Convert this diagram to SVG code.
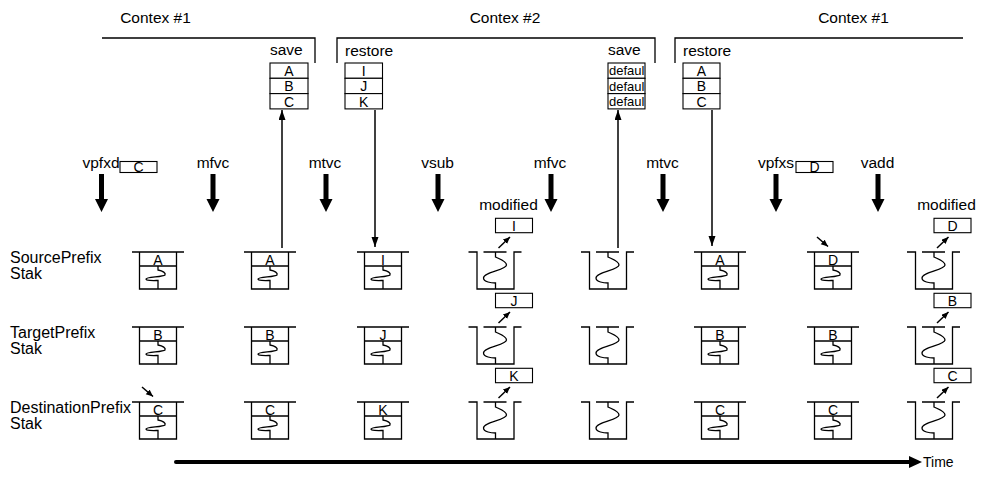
<svg xmlns="http://www.w3.org/2000/svg" xmlns:xlink="http://www.w3.org/1999/xlink" width="982" height="482" viewBox="0 0 982 482">
<style>
text{font-family:"Liberation Sans",Arial,sans-serif;fill:#000}
.lb{font-size:15.5px}
.rl{font-size:16px}
.cl{font-size:14px;text-anchor:middle}
.df{font-size:13px}
.ln{fill:none;stroke:#000;stroke-width:1.3}
.bx{fill:#fff;stroke:#000;stroke-width:1.1}
.thin{fill:none;stroke:#000;stroke-width:1.5}
.sm{fill:none;stroke:#000;stroke-width:1.5}
.thick{fill:#000;stroke:none}
</style>
<defs>
<marker id="ah" markerUnits="userSpaceOnUse" markerWidth="12" markerHeight="8" refX="10" refY="3.5" orient="auto"><path d="M0,0 L10,3.5 L0,7 z" fill="#000"/></marker>
<marker id="ahs" markerUnits="userSpaceOnUse" markerWidth="9" markerHeight="8" refX="7" refY="3" orient="auto"><path d="M0,0 L7,3 L0,6 z" fill="#000"/></marker>
<g id="stackN">
<path class="ln" d="M-26,0 H26 M-18.5,0 V37 H18.5 V0 M-18.5,14 H18.5"/>
<path class="ln" d="M0,14 V18 C5,19 8,21 7,23 C5,25 -12,25 -12,27 C-12,29 -3,28.5 0,28.5 V37"/>
</g>
<g id="stackC">
<path class="ln" d="M-27,0 H-18.5 V37 H18.5 V0 H26 M-12,0 H11"/>
<path class="ln" d="M0,0 V5 C4,7 11,9 11,13 C11,18 -12,20 -12,26 C-12,30 -4,31 0,31 V37"/>
</g>
<polygon id="bigdown" class="thick" points="-2.5,174 2.5,174 2.5,199 6.5,199 0,212 -6.5,199 -2.5,199"/>
</defs>

<g id="contexts">
<g id="ctx1a"><text class="lb" x="155.5" y="23" text-anchor="middle">Contex #1</text><path class="ln" d="M102,38 H315 V63"/></g>
<g id="ctx2"><text class="lb" x="505" y="23" text-anchor="middle">Contex #2</text><path class="ln" d="M337,63 V38 H655 V63"/></g>
<g id="ctx1b"><text class="lb" x="853.5" y="23" text-anchor="middle">Contex #1</text><path class="ln" d="M675,63 V38 H963"/></g>
</g>

<g id="save1"><text class="lb" x="270" y="55">save</text>
<rect class="bx" x="270" y="63" width="38" height="15.3"/><rect class="bx" x="270" y="78.3" width="38" height="15.3"/><rect class="bx" x="270" y="93.6" width="38" height="15.3"/>
<text class="cl" x="289" y="76">A</text><text class="cl" x="289" y="91.3">B</text><text class="cl" x="289" y="106.6">C</text></g>
<g id="restore2"><text class="lb" x="345" y="56">restore</text>
<rect class="bx" x="345" y="63" width="37.5" height="15.3"/><rect class="bx" x="345" y="78.3" width="37.5" height="15.3"/><rect class="bx" x="345" y="93.6" width="37.5" height="15.3"/>
<text class="cl" x="363.7" y="76">I</text><text class="cl" x="363.7" y="91.3">J</text><text class="cl" x="363.7" y="106.6">K</text></g>
<g id="save2"><text class="lb" x="608" y="55">save</text>
<rect class="bx" x="608" y="63" width="37" height="15.3"/><rect class="bx" x="608" y="78.3" width="37" height="15.3"/><rect class="bx" x="608" y="93.6" width="37" height="15.3"/>
<text class="df" x="609" y="75.3">defaul</text><text class="df" x="609" y="90.6">defaul</text><text class="df" x="609" y="105.9">defaul</text></g>
<g id="restore1"><text class="lb" x="683" y="56">restore</text>
<rect class="bx" x="683" y="63" width="37" height="15.3"/><rect class="bx" x="683" y="78.3" width="37" height="15.3"/><rect class="bx" x="683" y="93.6" width="37" height="15.3"/>
<text class="cl" x="701.5" y="76">A</text><text class="cl" x="701.5" y="91.3">B</text><text class="cl" x="701.5" y="106.6">C</text></g>

<g id="ops">
<g id="op1"><text class="lb" x="101" y="168" text-anchor="middle">vpfxd</text><rect class="bx" x="120" y="161.5" width="37" height="11"/><text class="cl" x="138.5" y="172">C</text><use xlink:href="#bigdown" x="101.5"/></g>
<g id="op2"><text class="lb" x="213" y="168" text-anchor="middle">mfvc</text><use xlink:href="#bigdown" x="213"/></g>
<g id="op3"><text class="lb" x="325" y="168" text-anchor="middle">mtvc</text><use xlink:href="#bigdown" x="326"/></g>
<g id="op4"><text class="lb" x="437.5" y="168" text-anchor="middle">vsub</text><use xlink:href="#bigdown" x="438"/></g>
<g id="op5"><text class="lb" x="550" y="168" text-anchor="middle">mfvc</text><use xlink:href="#bigdown" x="551"/></g>
<g id="op6"><text class="lb" x="662.5" y="168" text-anchor="middle">mtvc</text><use xlink:href="#bigdown" x="663"/></g>
<g id="op7"><text class="lb" x="776" y="168" text-anchor="middle">vpfxs</text><rect class="bx" x="796" y="161.5" width="37" height="11"/><text class="cl" x="814.5" y="172">D</text><use xlink:href="#bigdown" x="776"/></g>
<g id="op8"><text class="lb" x="877.5" y="168" text-anchor="middle">vadd</text><use xlink:href="#bigdown" x="878"/></g>
</g>

<g id="rowlabels">
<text class="rl" x="10" y="263">SourcePrefix</text><text class="rl" x="10" y="279">Stak</text>
<text class="rl" x="10" y="338">TargetPrefix</text><text class="rl" x="10" y="354">Stak</text>
<text class="rl" x="10" y="413">DestinationPrefix</text><text class="rl" x="10" y="429">Stak</text>
</g>

<g id="stacks">
<g id="s1r1" transform="translate(158,252)"><use xlink:href="#stackN"/><text class="cl" y="12.5">A</text></g>
<g id="s1r2" transform="translate(158,327)"><use xlink:href="#stackN"/><text class="cl" y="12.5">B</text></g>
<g id="s1r3" transform="translate(158,402)"><use xlink:href="#stackN"/><text class="cl" y="12.5">C</text></g>
<g id="s2r1" transform="translate(270,252)"><use xlink:href="#stackN"/><text class="cl" y="12.5">A</text></g>
<g id="s2r2" transform="translate(270,327)"><use xlink:href="#stackN"/><text class="cl" y="12.5">B</text></g>
<g id="s2r3" transform="translate(270,402)"><use xlink:href="#stackN"/><text class="cl" y="12.5">C</text></g>
<g id="s3r1" transform="translate(383,252)"><use xlink:href="#stackN"/><text class="cl" y="12.5">I</text></g>
<g id="s3r2" transform="translate(383,327)"><use xlink:href="#stackN"/><text class="cl" y="12.5">J</text></g>
<g id="s3r3" transform="translate(383,402)"><use xlink:href="#stackN"/><text class="cl" y="12.5">K</text></g>
<g id="s4r1" transform="translate(495.5,252)"><use xlink:href="#stackC"/></g>
<g id="s4r2" transform="translate(495.5,327)"><use xlink:href="#stackC"/></g>
<g id="s4r3" transform="translate(495.5,402)"><use xlink:href="#stackC"/></g>
<g id="s5r1" transform="translate(608,252)"><use xlink:href="#stackC"/></g>
<g id="s5r2" transform="translate(608,327)"><use xlink:href="#stackC"/></g>
<g id="s5r3" transform="translate(608,402)"><use xlink:href="#stackC"/></g>
<g id="s6r1" transform="translate(720,252)"><use xlink:href="#stackN"/><text class="cl" y="12.5">A</text></g>
<g id="s6r2" transform="translate(720,327)"><use xlink:href="#stackN"/><text class="cl" y="12.5">B</text></g>
<g id="s6r3" transform="translate(720,402)"><use xlink:href="#stackN"/><text class="cl" y="12.5">C</text></g>
<g id="s7r1" transform="translate(833,252)"><use xlink:href="#stackN"/><text class="cl" y="12.5">D</text></g>
<g id="s7r2" transform="translate(833,327)"><use xlink:href="#stackN"/><text class="cl" y="12.5">B</text></g>
<g id="s7r3" transform="translate(833,402)"><use xlink:href="#stackN"/><text class="cl" y="12.5">C</text></g>
<g id="s8r1" transform="translate(934,252)"><use xlink:href="#stackC"/></g>
<g id="s8r2" transform="translate(934,327)"><use xlink:href="#stackC"/></g>
<g id="s8r3" transform="translate(934,402)"><use xlink:href="#stackC"/></g>
</g>

<g id="modified4">
<text class="lb" x="508.5" y="210" text-anchor="middle">modified</text>
<rect class="bx" x="495.5" y="218.3" width="37" height="14.4"/><text class="cl" x="514" y="230.5">I</text>
<rect class="bx" x="495.5" y="293.3" width="37" height="14.4"/><text class="cl" x="514" y="305.5">J</text>
<rect class="bx" x="495.5" y="368.3" width="37" height="14.4"/><text class="cl" x="514" y="380.5">K</text>
</g>
<g id="modified8">
<text class="lb" x="946.5" y="210" text-anchor="middle">modified</text>
<rect class="bx" x="934" y="218.3" width="37" height="14.4"/><text class="cl" x="952.5" y="230.5">D</text>
<rect class="bx" x="934" y="293.3" width="37" height="14.4"/><text class="cl" x="952.5" y="305.5">B</text>
<rect class="bx" x="934" y="368.3" width="37" height="14.4"/><text class="cl" x="952.5" y="380.5">C</text>
</g>

<g id="connectors">
<line class="thin" x1="282" y1="248" x2="282" y2="110" marker-end="url(#ah)"/>
<line class="thin" x1="375" y1="110" x2="375" y2="247" marker-end="url(#ah)"/>
<line class="thin" x1="618" y1="248" x2="618" y2="110" marker-end="url(#ah)"/>
<line class="thin" x1="712" y1="110" x2="712" y2="246" marker-end="url(#ah)"/>
<line class="sm" x1="142" y1="387" x2="153" y2="396.5" marker-end="url(#ahs)"/>
<line class="sm" x1="817" y1="237" x2="828" y2="246.5" marker-end="url(#ahs)"/>
<line class="sm" x1="498.5" y1="248" x2="510" y2="237" marker-end="url(#ahs)"/>
<line class="sm" x1="498.5" y1="323" x2="510" y2="312" marker-end="url(#ahs)"/>
<line class="sm" x1="498.5" y1="398" x2="510" y2="387" marker-end="url(#ahs)"/>
<line class="sm" x1="937" y1="248" x2="948.5" y2="237" marker-end="url(#ahs)"/>
<line class="sm" x1="937" y1="323" x2="948.5" y2="312" marker-end="url(#ahs)"/>
<line class="sm" x1="937" y1="398" x2="948.5" y2="387" marker-end="url(#ahs)"/>
<g id="time">
<line x1="176" y1="462" x2="912" y2="462" stroke="#000" stroke-width="4" stroke-linecap="round"/>
<polygon class="thick" points="909,456 922,462 909,468"/>
</g>
</g>
<text x="923" y="467" style="font-size:14px">Time</text>
</svg>
